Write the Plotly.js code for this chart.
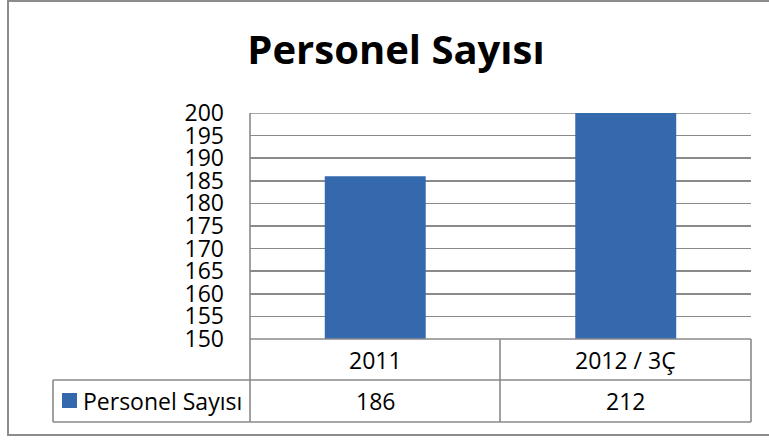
<!DOCTYPE html>
<html>
<head>
<meta charset="utf-8">
<script src="https://cdn.plot.ly/plotly-3.0.1.min.js"></script>
<style>html,body{margin:0;padding:0;background:#fff;}#chart{width:769px;height:440px;}</style>
</head>
<body>
<div id="chart"></div>
<script>
const chartTitle = "Personel Sayısı";
const seriesName = "Personel Sayısı";
const categories = ["2011", "2012 / 3Ç"];
const values = [186, 212];
const yTicks = [150,155,160,165,170,175,180,185,190,195,200];

const W = 769, H = 440;
const L = 250, R = 751, T = 113, B = 339;
const px = x => (x - L) / (R - L);
const py = y => (B - y) / (B - T);
const FONT = "Open Sans, Noto Sans, sans-serif";
const gridC = "#8a8a8a";
const FS = 23;

const shapes = [];
const line = (x0,y0,x1,y1,w) => shapes.push({type:'line',xref:'paper',yref:'paper',x0:px(x0),y0:py(y0),x1:px(x1),y1:py(y1),line:{color:gridC,width:w||1.6},layer:'above'});
// outer frame
shapes.push({type:'rect',xref:'paper',yref:'paper',x0:px(8),y0:py(1),x1:px(790),y1:py(435),line:{color:'#8c8c8c',width:2},layer:'below'});
// top gridline (200)
shapes.push({type:'line',xref:'paper',yref:'y',x0:0,x1:1,y0:yTicks[yTicks.length-1],y1:yTicks[yTicks.length-1],line:{color:gridC,width:1.6},layer:'below'});
// table
const rowTop = 339, rowMid = 380, rowBot = 422, legL = 53;
line(L, T, L, rowBot);
line(L, rowTop, R, rowTop);
line(legL, rowMid, R, rowMid);
line(legL, rowBot, R, rowBot);
line(legL, rowMid, legL, rowBot);
line(500, rowTop, 500, rowBot);
line(R, rowTop, R, rowBot);
// legend key
shapes.push({type:'rect',xref:'paper',yref:'paper',x0:px(62),y0:py(393),x1:px(77),y1:py(408),fillcolor:'#3468ad',line:{width:0}});

const annotations = [];
categories.forEach((c,i) => {
  annotations.push({xref:'x',yref:'paper',x:i,y:py((rowTop+rowMid)/2),text:c,showarrow:false,font:{family:FONT,size:FS,color:'#000'},xanchor:'center',yanchor:'middle'});
  annotations.push({xref:'x',yref:'paper',x:i,y:py((rowMid+rowBot)/2),text:String(values[i]),showarrow:false,font:{family:FONT,size:FS,color:'#000'},xanchor:'center',yanchor:'middle'});
});
annotations.push({xref:'paper',yref:'paper',x:px(81),y:py((rowMid+rowBot)/2),text:seriesName,showarrow:false,font:{family:FONT,size:FS,color:'#000'},xanchor:'left',yanchor:'middle'});

const trace = {type:'bar',x:categories,y:values,name:seriesName,marker:{color:'#3569ae',line:{width:0}},hoverinfo:'none'};

const layout = {
  width:W,height:H,
  margin:{l:L,r:W-R,t:T,b:H-B,pad:0},
  paper_bgcolor:'#fff',plot_bgcolor:'#fff',
  showlegend:false,
  bargap:0.597,
  title:{text:'<b>'+chartTitle+'</b>',xref:'container',yref:'container',x:396/W,y:1-50/H,xanchor:'center',yanchor:'middle',font:{family:FONT,size:40,color:'#000'}},
  xaxis:{type:'category',categoryorder:'array',categoryarray:categories,range:[-0.5,1.5],autorange:false,showticklabels:false,ticks:'',showgrid:false,zeroline:false,showline:false,fixedrange:true},
  yaxis:{range:[150,200],autorange:false,tickvals:yTicks,ticktext:yTicks.map(String),showgrid:true,gridcolor:gridC,gridwidth:1.6,zeroline:false,showline:false,ticks:'',ticklabelstandoff:25,tickfont:{family:FONT,size:FS,color:'#000'},fixedrange:true},
  shapes:shapes,annotations:annotations
};
Plotly.newPlot('chart',[trace],layout,{displayModeBar:false,staticPlot:true});
</script>
</body>
</html>
